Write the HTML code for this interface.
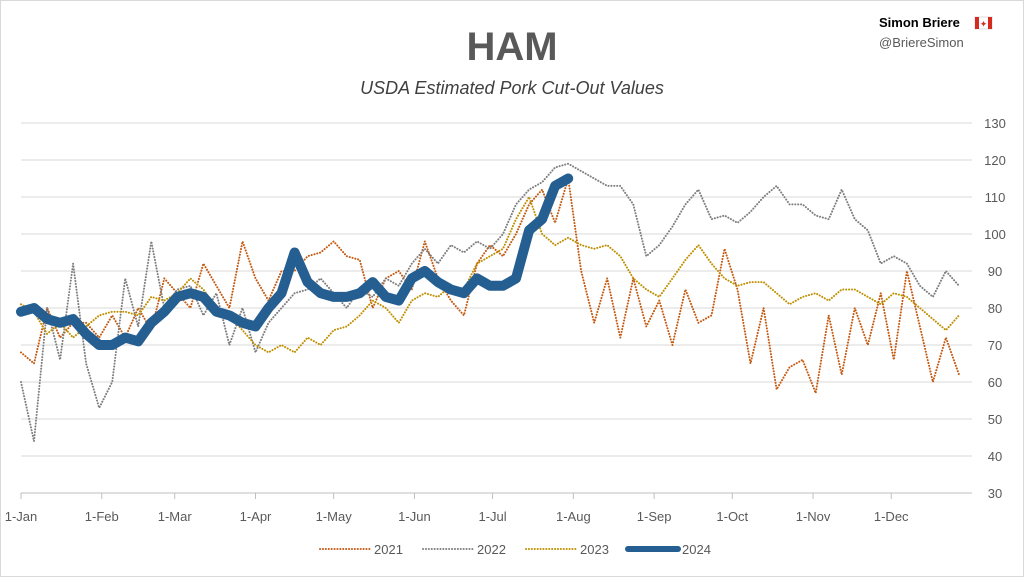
<!DOCTYPE html>
<html><head><meta charset="utf-8"><style>
body{margin:0;background:#fff;font-family:"Liberation Sans",sans-serif}
#wrap{position:relative;width:1024px;height:577px;overflow:hidden}
</style></head><body>
<div id="wrap">
<svg id="chart" width="1024" height="577">
<rect x="0.5" y="0.5" width="1023" height="576" fill="#fff" stroke="#d9d9d9"/>
<text x="512" y="60" text-anchor="middle" font-size="40" font-weight="bold" fill="#595959">HAM</text>
<text x="512" y="94" text-anchor="middle" font-size="18" font-style="italic" fill="#404040">USDA Estimated Pork Cut-Out Values</text>
<text x="879" y="27" font-size="13" font-weight="bold" fill="#000">Simon Briere</text>
<g><rect x="975" y="17" width="17" height="12" fill="#fff" stroke="#ddd"/><rect x="975" y="17" width="4" height="12" fill="#d52b1e"/><rect x="988" y="17" width="4" height="12" fill="#d52b1e"/><text x="983.5" y="27" text-anchor="middle" font-size="9" fill="#d52b1e">✦</text></g>
<text x="879" y="47" font-size="13" fill="#595959">@BriereSimon</text>
<g id="grid"></g><g id="series"></g><g id="axes"></g><g id="legend"></g>
</svg></div>
<script>
const days=[];for(let d=0;d<=360;d+=5)days.push(d);
const v2021=[68,65,80,72,76,76,72,78,72,80,74,88,84,80,92,86,80,98,88,82,90,90,94,95,98,94,93,80,88,90,85,98,88,82,78,92,97,94,100,108,112,103,115,90,76,88,72,88,75,82,70,85,76,78,96,85,65,80,58,64,66,57,78,62,80,70,84,66,90,75,60,72,62];
const v2022=[60,44,80,66,92,65,53,60,88,75,98,80,85,86,78,84,70,80,68,76,80,84,85,88,84,80,85,83,88,86,92,96,92,97,95,98,96,100,108,112,114,118,119,117,115,113,113,108,94,97,102,108,112,104,105,103,106,110,113,108,108,105,104,112,104,101,92,94,92,86,83,90,86];
const v2023=[81,79,73,76,72,75,78,79,79,78,83,82,84,88,85,80,78,74,70,68,70,68,72,70,74,75,78,82,80,76,82,84,83,86,85,92,94,96,104,110,100,97,99,97,96,97,94,88,85,83,88,93,97,92,88,86,87,87,84,81,83,84,82,85,85,83,81,84,83,80,77,74,78];
const v2024=[79,80,77,76,77,73,70,70,72,71,76,79,83,84,83,79,78,76,75,80,84,95,87,84,83,83,84,87,83,82,88,90,87,85,84,88,86,86,88,101,104,113,115];
const yTicks=[30,40,50,60,70,80,90,100,110,120,130];
const monthLabels=["1-Jan","1-Feb","1-Mar","1-Apr","1-May","1-Jun","1-Jul","1-Aug","1-Sep","1-Oct","1-Nov","1-Dec"];
const monthDays=[0,31,59,90,120,151,181,212,243,273,304,334];
const NS="http://www.w3.org/2000/svg";
const X=d=>21+d*951/365, Y=v=>493-(v-30)*3.7;
function mk(p,t,a){const e=document.createElementNS(NS,t);for(const k in a)e.setAttribute(k,a[k]);p.appendChild(e);return e;}
const grid=document.getElementById('grid'),axes=document.getElementById('axes'),ser=document.getElementById('series'),leg=document.getElementById('legend');
yTicks.forEach(t=>{
 const l=mk(grid,'line',{x1:21,x2:972,y1:Y(t),y2:Y(t),stroke:t===30?'#bfbfbf':'#d9d9d9','stroke-width':1});
 
 
 const tx=mk(axes,'text',{x:995,y:Y(t)+5,'text-anchor':'middle','font-size':13,fill:'#595959'});tx.textContent=t;
 
 
});
monthLabels.forEach((m,i)=>{
 const x=X(monthDays[i]);
 const tk=mk(axes,'line',{x1:x,x2:x,y1:493,y2:499,stroke:'#bfbfbf'});
 
 
 const tx=mk(axes,'text',{x:x,y:521,'text-anchor':'middle','font-size':13,fill:'#595959'});tx.textContent=m;
 
 
});
const S=[{n:'2021',v:v2021,c:'#C55A11',w:2,dash:'0.1 2.8'},{n:'2022',v:v2022,c:'#7F7F7F',w:2,dash:'0.1 2.8'},{n:'2023',v:v2023,c:'#BF9000',w:2,dash:'0.1 2.8'},{n:'2024',v:v2024,c:'#255E91',w:10,dash:''}];
S.forEach(s=>{
 const pts=s.v.map((v,i)=>X(days[i]).toFixed(1)+','+Y(v).toFixed(1)).join(' ');
 const pl=mk(ser,'polyline',{points:pts,fill:'none',stroke:s.c,'stroke-width':s.w,'stroke-dasharray':s.dash,'stroke-linejoin':'round','stroke-linecap':'round'});
 
 
});
const lx=[320,423,526,628];
S.forEach((s,i)=>{
 const g=mk(leg,'g',{});
 
 
 mk(g,'line',{x1:lx[i],x2:lx[i]+50,y1:549,y2:549,stroke:s.c,'stroke-width':s.w===10?6:2,'stroke-dasharray':s.dash,'stroke-linecap':'round'});
 const t=mk(g,'text',{x:lx[i]+54,y:554,'font-size':13,fill:'#595959'});t.textContent=s.n;
});
</script></body></html>
